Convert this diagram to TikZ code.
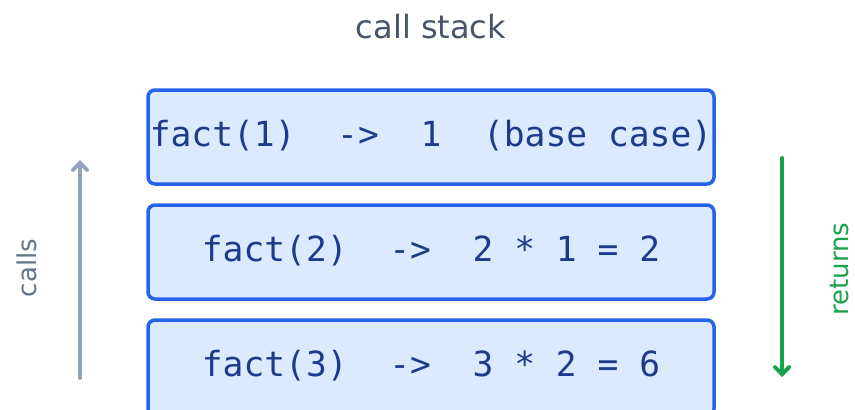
\documentclass[tikz,border=0pt]{standalone}
\usepackage{fontspec}
\setmainfont{DejaVu Sans}
\setmonofont{DejaVu Sans Mono}
\usetikzlibrary{arrows.meta}
\definecolor{boxfill}{HTML}{DBEAFE}
\definecolor{boxline}{HTML}{2563EB}
\definecolor{boxtext}{HTML}{1E3A8A}
\definecolor{titlecol}{HTML}{475569}
\definecolor{callcol}{HTML}{64748B}
\definecolor{callarrow}{HTML}{94A3B8}
\definecolor{retcol}{HTML}{16A34A}
\begin{document}
\begin{tikzpicture}[x=1pt,y=-1pt,
  frame/.style={draw=boxline, fill=boxfill, line width=3.5pt, rounded corners=7pt},
  code/.style={text=boxtext, font=\fontsize{34.6}{38}\selectfont\ttfamily, inner sep=0pt},
  side/.style={font=\fontsize{26}{29}\selectfont, rotate=90, inner sep=0pt}]
\clip (0,0) rectangle (855,410);
\fill[white] (0,0) rectangle (855,410);
\node[text=titlecol, font=\fontsize{32}{35}\selectfont, inner sep=0pt] (title) at (431,27) {call stack};
\draw[frame] (148,90) rectangle (714,184);
\draw[frame] (148,205) rectangle (714,299);
\draw[frame] (148,320) rectangle (714,416);
\node[code] (f1) at (431,136) {fact(1)\ \ ->\ \ 1\ \ (base case)};
\node[code] (f2) at (431,251) {fact(2)\ \ ->\ \ 2 * 1 = 2};
\node[code] (f3) at (431,366) {fact(3)\ \ ->\ \ 3 * 2 = 6};
\coordinate (cs) at (80,378);
\coordinate (ce) at (80,160);
\draw[callarrow, line width=4pt, line cap=round, -{Straight Barb[length=7pt,width=14pt,line cap=round]}] (cs) -- (ce);
\coordinate (rs) at (782,158);
\coordinate (re) at (782,377);
\draw[retcol, line width=4pt, line cap=round, -{Straight Barb[length=7pt,width=14pt,line cap=round]}] (rs) -- (re);
\node[side, text=callcol] (calls) at (27,268) {calls};
\node[side, text=retcol] (returns) at (840,269) {returns};
\end{tikzpicture}
\end{document}
